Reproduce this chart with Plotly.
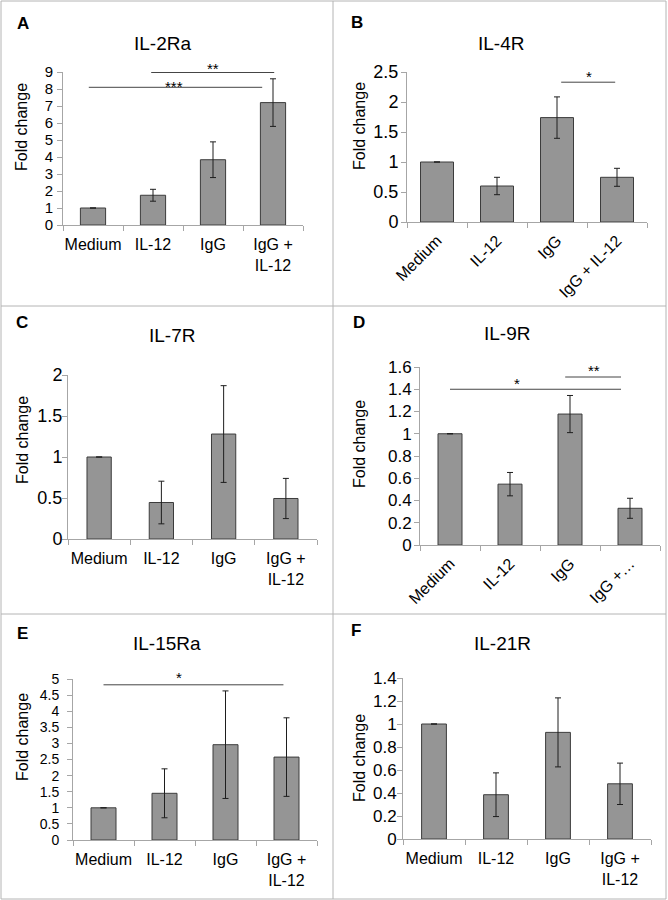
import plotly.graph_objects as go

W, H = 668, 900
FONT = "Liberation Sans, Arial, sans-serif"

# categories (tick labels differ a little between panels)
cats = ["Medium", "IL-12", "IgG", "IgG +<br>IL-12"]
cats_b = ["Medium", "IL-12", "IgG", "IgG + IL-12"]
cats_d = ["Medium", "IL-12", "IgG", "IgG +…"]

# fold change values and error bars
il2ra = [1, 1.75, 3.84, 7.2]
il2ra_err = [0, 0.35, 1.05, 1.4]
il4r = [1, 0.6, 1.74, 0.745]
il4r_err = [0, 0.145, 0.345, 0.15]
il7r = [1, 0.445, 1.28, 0.494]
il7r_err = [0, 0.26, 0.59, 0.245]
il9r = [1, 0.547, 1.177, 0.33]
il9r_err = [0, 0.105, 0.167, 0.09]
il15ra = [1, 1.45, 2.96, 2.575]
il15ra_err = [0, 0.76, 1.67, 1.22]
il21r = [1, 0.385, 0.927, 0.48]
il21r_err = [0, 0.19, 0.30, 0.18]

# significance brackets: (x start, x end, y, label, label x)
sig_a = [(0.97, 3.02, 8.97, "**", 2.0), (-0.07, 2.82, 8.1, "***", 1.35)]
sig_b = [(2.07, 2.97, 2.33, "*", 2.53)]
sig_c = [(2.08, 2.97, 2.13, "*", 2.53)]
sig_d = [(0.0, 2.85, 1.40, "*", 1.12), (1.92, 2.85, 1.51, "**", 2.4)]
sig_e = [(0.0, 2.95, 4.82, "*", 1.24)]
sig_f = []

# how far (px) each star label sits above its line
star_lift = {"A": [7, 4], "B": [9], "C": [7], "D": [9, 10], "E": [10], "F": []}


def px(x):
    return x / W


def py(y):
    return 1 - y / H


# layout per panel: data, axis top, tick step, plot box in pixels (l, r, top, bottom)
panels = [
    dict(letter="A", title="IL-2Ra", cats=cats, y=il2ra, err=il2ra_err, sig=sig_a,
         top=9, dtick=1, box=(63, 303, 72, 225), bw=0.42, angle=0, ypad=1, yfs=15,
         letter_xy=(23, 23), title_xy=(162, 43), ytitle_xy=(22, 127)),
    dict(letter="B", title="IL-4R", cats=cats_b, y=il4r, err=il4r_err, sig=sig_b,
         top=2.5, dtick=0.5, box=(407, 647, 72, 222), bw=0.55, angle=-45, ypad=-1, yfs=18,
         letter_xy=(357, 22), title_xy=(501, 43), ytitle_xy=(359, 126)),
    dict(letter="C", title="IL-7R", cats=cats, y=il7r, err=il7r_err, sig=sig_c,
         top=2, dtick=0.5, box=(68, 317, 375, 539), bw=0.39, angle=0, ypad=-4, yfs=18,
         letter_xy=(22, 323), title_xy=(172, 335), ytitle_xy=(22, 440)),
    dict(letter="D", title="IL-9R", cats=cats_d, y=il9r, err=il9r_err, sig=sig_d,
         top=1.6, dtick=0.2, box=(420, 660, 367, 545), bw=0.40, angle=-45, ypad=-1, yfs=17,
         letter_xy=(359, 323), title_xy=(507, 333), ytitle_xy=(359, 444)),
    dict(letter="E", title="IL-15Ra", cats=cats, y=il15ra, err=il15ra_err, sig=sig_e,
         top=5, dtick=0.5, box=(73, 317, 679, 840), bw=0.41, angle=0, ypad=5, yfs=14,
         letter_xy=(22, 633), title_xy=(167, 643), ytitle_xy=(22, 737)),
    dict(letter="F", title="IL-21R", cats=cats, y=il21r, err=il21r_err, sig=sig_f,
         top=1.4, dtick=0.2, box=(403, 651, 678, 839), bw=0.40, angle=0, ypad=-3, yfs=17,
         letter_xy=(356, 630), title_xy=(502, 643), ytitle_xy=(359, 758)),
]

fig = go.Figure()
annotations = []
shapes = []
axis_col = "#a6a6a6"

for i, p in enumerate(panels):
    n = "" if i == 0 else str(i + 1)
    l, r, t, b = p["box"]
    fig.add_trace(go.Bar(
        x=p["cats"], y=p["y"], width=p["bw"],
        xaxis="x" + n, yaxis="y" + n,
        marker=dict(color="#959595", line=dict(color="#3c3c3c", width=1)),
        error_y=dict(type="data", array=p["err"], color="#1e1e1e", thickness=1, width=3),
        showlegend=False,
    ))
    fig.update_layout({
        "xaxis" + n: dict(
            domain=[px(l), px(r)], anchor="y" + n, type="category", automargin=False,
            range=[-0.5, 3.5], showline=True, linecolor=axis_col, linewidth=1,
            ticks="outside", tickson="boundaries", ticklen=5, tickcolor=axis_col,
            tickangle=p["angle"], showgrid=False, zeroline=False,
            tickfont=dict(family=FONT, size=16, color="black"),
            ticklabelstandoff=5 if p["angle"] == 0 else 2,
        ),
        "yaxis" + n: dict(
            domain=[py(b), py(t)], anchor="x" + n, range=[0, p["top"]], automargin=False,
            tick0=0, dtick=p["dtick"], showline=True, linecolor=axis_col, linewidth=1,
            ticks="outside", ticklen=5, tickcolor=axis_col, showgrid=False,
            zeroline=False, tickfont=dict(family=FONT, size=p["yfs"], color="black"),
            ticklabelstandoff=p["ypad"],
        ),
    })
    for (x0, x1, yv, lab, lx), lift in zip(p["sig"], star_lift[p["letter"]]):
        shapes.append(dict(type="line", xref="x" + n, yref="y" + n,
                           x0=x0, x1=x1, y0=yv, y1=yv,
                           line=dict(color="#454545", width=1)))
        annotations.append(dict(xref="x" + n, yref="y" + n, x=lx, y=yv, text=lab,
                                showarrow=False, xanchor="center", yanchor="middle",
                                yshift=lift - 3,
                                font=dict(family=FONT, size=15, color="black")))
    lx, ly = p["letter_xy"]
    annotations.append(dict(xref="paper", yref="paper", x=px(lx), y=py(ly),
                            xanchor="center", yanchor="middle",
                            text="<b>%s</b>" % p["letter"], showarrow=False,
                            font=dict(family=FONT, size=17, color="black")))
    tx, ty = p["title_xy"]
    annotations.append(dict(xref="paper", yref="paper", x=px(tx), y=py(ty),
                            xanchor="center", yanchor="middle",
                            text=p["title"], showarrow=False,
                            font=dict(family=FONT, size=19, color="black")))
    yx, yy = p["ytitle_xy"]
    annotations.append(dict(xref="paper", yref="paper", x=px(yx), y=py(yy),
                            xanchor="center", yanchor="middle",
                            text="Fold change", textangle=-90, showarrow=False,
                            font=dict(family=FONT, size=16, color="black")))

# panel frames
frame = dict(color="#b4b4b4", width=1)
shapes.append(dict(type="rect", xref="paper", yref="paper",
                   x0=px(1), x1=px(666), y0=py(899), y1=py(1), line=frame))
shapes.append(dict(type="line", xref="paper", yref="paper",
                   x0=px(333), x1=px(333), y0=py(899), y1=py(1), line=frame))
for yy in (306, 614):
    shapes.append(dict(type="line", xref="paper", yref="paper",
                       x0=px(1), x1=px(666), y0=py(yy), y1=py(yy), line=frame))

fig.update_layout(
    width=W, height=H, margin=dict(l=0, r=0, t=0, b=0, autoexpand=False),
    paper_bgcolor="white", plot_bgcolor="white",
    font=dict(family=FONT, color="black"),
    bargap=0.5, annotations=annotations, shapes=shapes,
)

fig.write_html("out.html", config={"displayModeBar": False},
               post_script="document.body.style.margin='0';document.body.style.overflow='hidden';")
